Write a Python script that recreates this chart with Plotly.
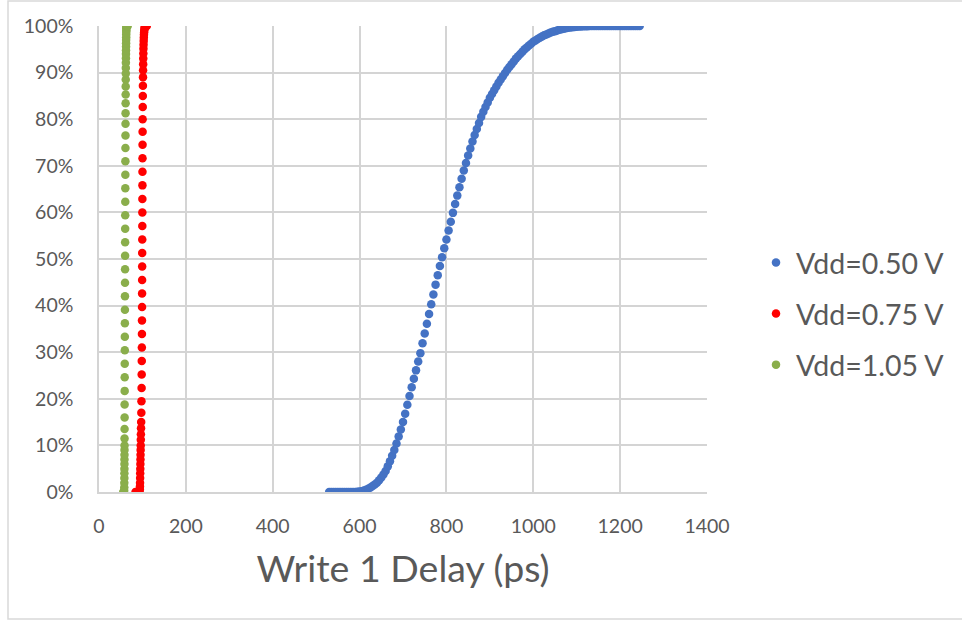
import plotly.graph_objects as go

# ---------------- data ----------------
series_names = ["Vdd=0.50 V", "Vdd=0.75 V", "Vdd=1.05 V"]
series_colors = ["#4472C4", "#FF0000", "#8AAE4B"]

x_050 = [530, 535, 540, 545, 550, 555, 560, 565, 570, 575, 580, 585, 590, 595,
         600, 605, 610, 615, 620, 625, 630, 635, 640, 645, 650, 655, 660, 665,
         670, 675, 680, 685, 690, 695, 700, 705, 710, 715, 720, 725, 730, 735,
         740, 745, 750, 755, 760, 765, 770, 775, 780, 785, 790, 795, 800, 805,
         810, 815, 820, 825, 830, 835, 840, 845, 850, 855, 860, 865, 870, 875,
         880, 885, 890, 895, 900, 905, 910, 915, 920, 925, 930, 935, 940, 945,
         950, 955, 960, 965, 970, 975, 980, 985, 990, 995, 1000, 1005, 1010,
         1015, 1020, 1025, 1030, 1035, 1040, 1045, 1050, 1055, 1060, 1065,
         1070, 1075, 1080, 1085, 1090, 1095, 1100, 1105, 1110, 1115, 1120,
         1125, 1130, 1135, 1140, 1145, 1150, 1155, 1160, 1165, 1170, 1175,
         1180, 1185, 1190, 1195, 1200, 1205, 1210, 1215, 1220, 1225, 1230,
         1235, 1240, 1245, 1250]
y_050 = [0, 0, 0, 0, 0, 0, 0, 0, 0, 0, 0, 0, 0.02, 0.05,
         0.1, 0.18, 0.3, 0.48, 0.7, 0.98, 1.3, 1.63, 2.0, 2.5, 3.1, 3.75, 4.5, 5.5,
         6.6, 7.8, 9.0, 10.4, 11.9, 13.4, 15.0, 16.8, 18.7, 20.6, 22.5, 24.3, 26.1, 28.0,
         29.8, 31.9, 34.0, 36.1, 38.2, 40.3, 42.4, 44.5, 46.5, 48.5, 50.4, 52.3, 54.2, 56.1,
         58.0, 59.9, 61.8, 63.6, 65.4, 67.2, 69.0, 70.6, 72.2, 73.7, 75.2, 76.6, 77.9, 79.2,
         80.5, 81.6, 82.6, 83.6, 84.6, 85.4, 86.2, 87.0, 87.8, 88.5, 89.2, 89.9, 90.6, 91.2,
         91.8, 92.4, 93.0, 93.5, 94.0, 94.5, 95.0, 95.4, 95.8, 96.2, 96.6, 96.9, 97.2,
         97.5, 97.75, 98.0, 98.2, 98.4, 98.6, 98.75, 98.9, 99.05, 99.2, 99.3,
         99.4, 99.5, 99.6, 99.67, 99.74, 99.8, 99.85, 99.88, 99.91, 99.93, 99.95,
         99.97, 99.98, 99.99, 100, 100, 100, 100, 100, 100, 100,
         100, 100, 100, 100, 100, 100, 100, 100, 100, 100, 100,
         100, 100, 100, 100]

x_075 = [84, 86, 88, 90, 92, 93.5, 94, 94.3, 94.5, 94.7, 94.9, 95.1, 95.3, 95.5,
         95.7, 95.9, 96.1, 96.3, 96.5, 96.8, 97.1, 97.5, 97.8, 98.1, 98.3, 98.5,
         98.7, 98.85, 99, 99.1, 99.2, 99.3, 99.4, 99.5, 99.6, 99.7, 99.8, 99.9,
         100, 100.1, 100.2, 100.3, 100.4, 100.5, 100.7, 100.9, 101.1, 101.3,
         101.5, 101.7, 101.9, 102.1, 102.3, 102.6, 102.9, 103.2, 103.5, 103.8,
         104.2, 104.7, 105.3, 106, 107, 108.5, 110]
y_075 = [0, 0, 0, 0, 0, 0.2, 0.6, 1.2, 2, 3, 4, 5, 6, 7,
         8, 9, 10, 11.2, 12.4, 13.7, 15, 17, 19.5, 22.3, 25.2, 28.1,
         31, 33.9, 36.8, 39.7, 42.6, 45.5, 48.4, 51.3, 54.2, 57.1, 60, 62.9,
         65.8, 68.7, 71.6, 74.5, 77.3, 80, 82.6, 85, 87.2, 89,
         90.5, 91.8, 93, 94.1, 95.1, 96, 96.8, 97.5, 98.1, 98.6,
         99, 99.4, 99.7, 99.9, 100, 100, 100]

x_105 = [56, 57, 58, 58.2, 58.3, 58.4, 58.5, 58.5, 58.6, 58.6, 58.7, 58.7, 58.8,
         58.8, 58.9, 59, 59, 59.1, 59.2, 59.3, 59.4, 59.5, 59.6, 59.7, 59.8, 59.9,
         60, 60.1, 60.2, 60.3, 60.4, 60.5, 60.6, 60.7, 60.8, 60.9, 61, 61.1, 61.2,
         61.3, 61.4, 61.5, 61.6, 61.7, 61.8, 61.9, 62, 62.1, 62.2, 62.3, 62.4,
         62.5, 62.6, 62.7, 62.8, 62.9, 63, 63.2, 63.5, 64.5, 66]
y_105 = [0, 0, 0.3, 1, 2, 3, 4, 5, 6, 7, 8, 9, 10,
         11.5, 13.5, 16, 18.8, 21.7, 24.6, 27.5, 30.4, 33.3, 36.2, 39.1, 42, 44.9,
         47.8, 50.7, 53.6, 56.5, 59.4, 62.3, 65.2, 68.1, 71, 73.8, 76.5, 79, 81.3,
         83.4, 85.3, 87, 88.5, 89.8, 91, 92.1, 93.1, 94, 94.8, 95.6, 96.3,
         97, 97.6, 98.2, 98.7, 99.1, 99.5, 99.8, 100, 100, 100]

x_ticks = [0, 200, 400, 600, 800, 1000, 1200, 1400]
y_ticks = [0, 0.1, 0.2, 0.3, 0.4, 0.5, 0.6, 0.7, 0.8, 0.9, 1.0]
x_title = "Write 1 Delay (ps)"

# ---------------- figure ----------------
FONT = "Lato, Calibri, 'Open Sans', sans-serif"
GRID = "#d4d4d4"
TXT = "#595959"

fig = go.Figure()
for name, color, xs, ys in zip(series_names, series_colors,
                               [x_050, x_075, x_105], [y_050, y_075, y_105]):
    fig.add_trace(go.Scatter(
        x=xs, y=[v / 100 for v in ys], mode="markers", name=name,
        legendgroup=name,
        marker=dict(color=color, size=8.5, line=dict(width=0)),
    ))

W, H = 962, 621
L, R, T, B = 99, 255, 26, 129
pw, ph = W - L - R, H - T - B

fig.update_layout(
    width=W, height=H,
    margin=dict(l=L, r=R, t=T, b=B, autoexpand=False),
    paper_bgcolor="white", plot_bgcolor="white",
    font=dict(family=FONT, color=TXT),
    showlegend=True,
    legend=dict(
        x=(756 - L) / pw, xanchor="left",
        y=(H - B - 314) / ph, yanchor="middle",
        font=dict(size=28.5, color=TXT, family=FONT),
        traceorder="grouped", tracegroupgap=11,
        bgcolor="rgba(0,0,0,0)", itemsizing="trace",
    ),
    xaxis=dict(
        range=[0, 1400], tickvals=x_ticks, showgrid=True, gridcolor=GRID,
        gridwidth=1.5, zeroline=False, showline=True, linecolor=GRID,
        linewidth=1.5, mirror=False, ticks="", ticklabelstandoff=16,
        tickfont=dict(size=19.5, color=TXT, family=FONT), automargin=False,
        title=dict(text=x_title, font=dict(size=37.5, color=TXT, family=FONT),
                   standoff=20),
    ),
    yaxis=dict(
        range=[0, 1], tickvals=y_ticks, tickformat=".0%", showgrid=True,
        gridcolor=GRID, gridwidth=1.5, zeroline=False, showline=True,
        linecolor=GRID, linewidth=1.5, ticks="", ticklabelstandoff=20,
        tickfont=dict(size=19.5, color=TXT, family=FONT), automargin=False,
    ),
    shapes=[dict(
        type="rect", xref="paper", yref="paper", layer="below",
        x0=(8 - L) / pw, x1=(970 - L) / pw,
        y0=-(619 - (H - B)) / ph, y1=1 + (T - 1) / ph,
        line=dict(color="#d9d9d9", width=1.5), fillcolor="rgba(0,0,0,0)",
    )],
)

fig.write_html("out.html")
